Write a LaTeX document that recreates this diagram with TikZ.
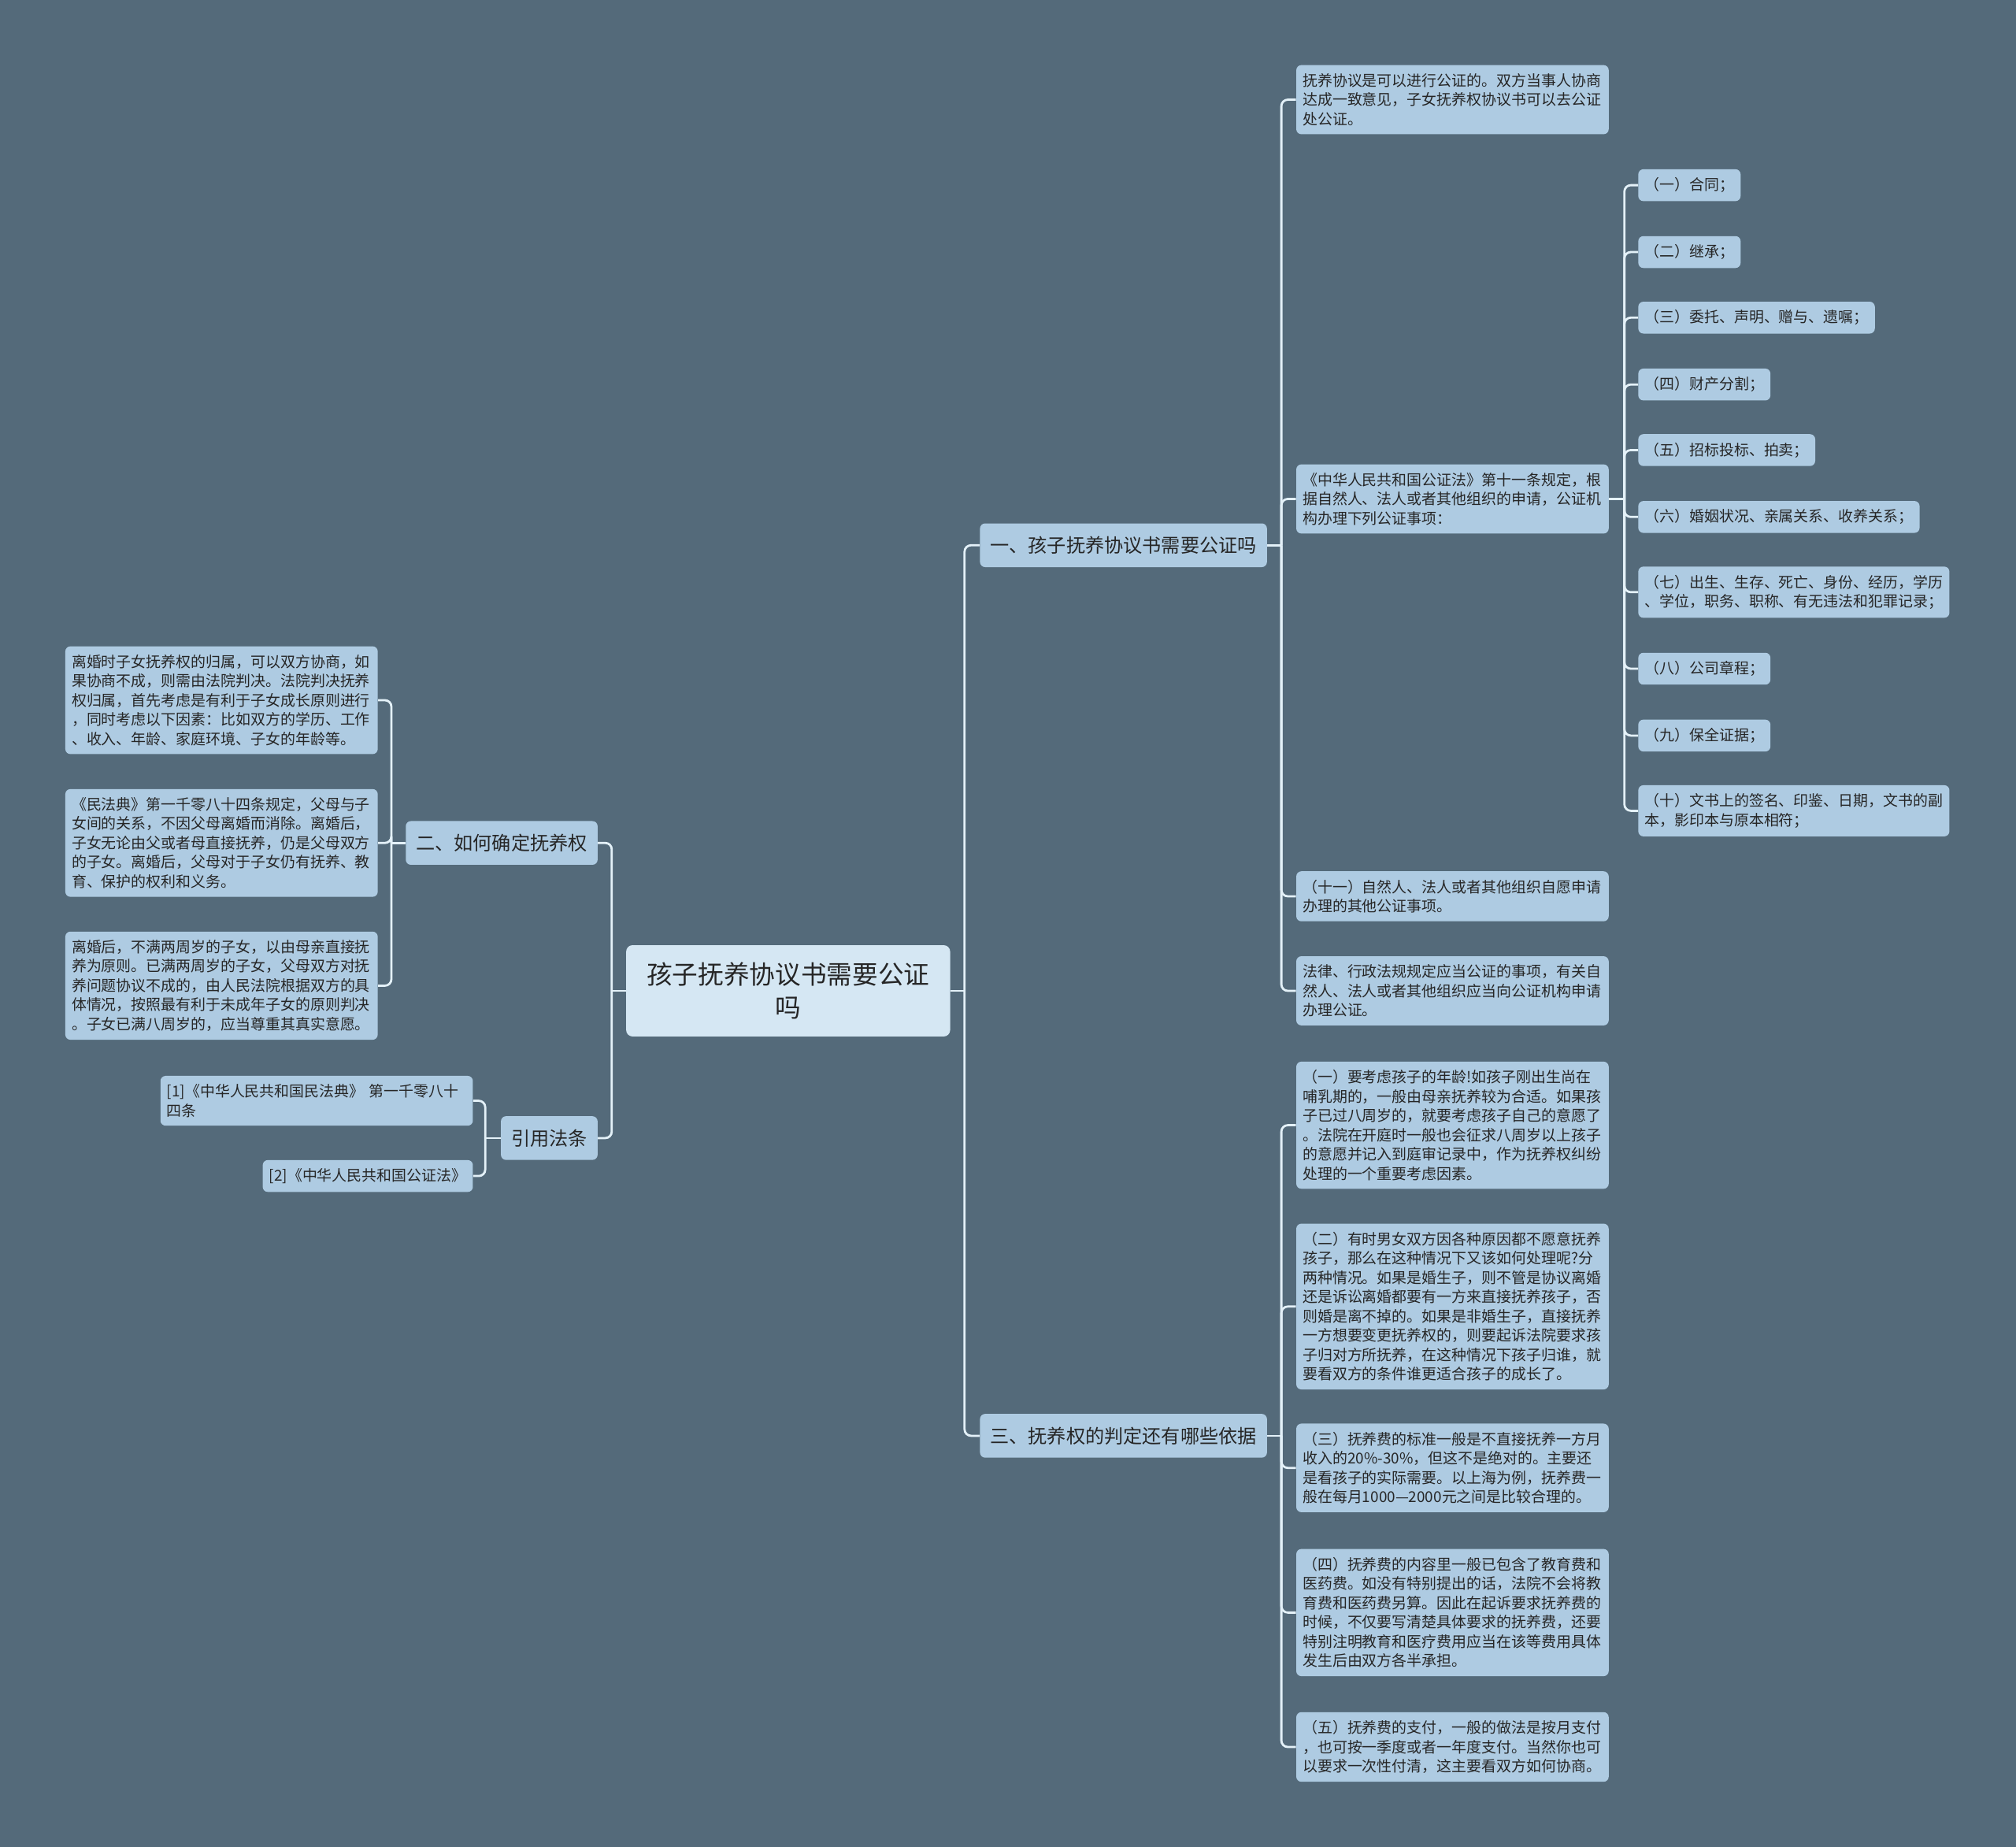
\documentclass[tikz,border=0pt]{standalone}
\usepackage{fontspec}
\setmainfont{Noto Sans CJK SC}
\usetikzlibrary{positioning,calc}

\definecolor{bg}{HTML}{546A7A}
\definecolor{leaffill}{HTML}{AECBE2}
\definecolor{rootfill}{HTML}{D5E7F3}
\definecolor{wire}{HTML}{E4F1F8}
\definecolor{ink}{HTML}{262626}

\begin{document}
\begin{tikzpicture}[
  x=1pt, y=-1pt,
  root/.style={rounded corners=5pt, fill=rootfill, text=ink, align=center,
               font=\fontsize{20}{26}\selectfont, minimum width=252pt, minimum height=71pt},
  topic/.style={rounded corners=4pt, fill=leaffill, text=ink, inner xsep=8pt,
               font=\fontsize{14.8}{18}\selectfont, minimum height=34pt},
  leaf/.style={rounded corners=4pt, fill=leaffill, text=ink, align=left, text width=\W pt,
               font=\fontsize{11.6}{15}\selectfont, inner xsep=5pt, inner ysep=6.5pt},
  item/.style={rounded corners=4pt, fill=leaffill, text=ink, align=left,
               font=\fontsize{11.6}{15}\selectfont, inner xsep=5pt, inner ysep=6.5pt},
  link/.style={draw=wire, line width=1.7pt},
  elbow/.style={link, rounded corners=5pt},
]
\def\W{233}   % leaf text width

% ---- canvas ----
\useasboundingbox (0,0) rectangle (1568,1436);
\fill[bg] (0,0) rectangle (1568,1436);

% ---- centre and main topics ----
\node[root] (root) at (613,770.5) {孩子抚养协议书需要公证\\吗};
\node[topic, anchor=west] (need)  at (762,424)    {一、孩子抚养协议书需要公证吗};
\node[topic, anchor=east] (how)   at (465,655.5)  {二、如何确定抚养权};
\node[topic, anchor=east] (cite)  at (465,885)    {引用法条};
\node[topic, anchor=west] (basis) at (762,1116.5) {三、抚养权的判定还有哪些依据};

% ---- 一、 ----
\node[leaf, anchor=west] (need1) at (1008,77.5) {抚养协议是可以进行公证的。双方当事人协商\\达成一致意见，子女抚养权协议书可以去公证\\处公证。};
\node[leaf, anchor=west] (need2) at (1008,388) {《中华人民共和国公证法》第十一条规定，根\\据自然人、法人或者其他组织的申请，公证机\\构办理下列公证事项：};
\node[leaf, anchor=west] (need3) at (1008,697) {（十一）自然人、法人或者其他组织自愿申请\\办理的其他公证事项。};
\node[leaf, anchor=west] (need4) at (1008,770.5) {法律、行政法规规定应当公证的事项，有关自\\然人、法人或者其他组织应当向公证机构申请\\办理公证。};

% items of the notary law
\foreach \n/\y/\txt in {%
  1/144/{（一）合同；},
  2/196/{（二）继承；},
  3/247/{（三）委托、声明、赠与、遗嘱；},
  4/299/{（四）财产分割；},
  5/350/{（五）招标投标、拍卖；},
  6/402/{（六）婚姻状况、亲属关系、收养关系；},
  7/460.5/{（七）出生、生存、死亡、身份、经历，学历\\、学位，职务、职称、有无违法和犯罪记录；},
  8/520/{（八）公司章程；},
  9/572/{（九）保全证据；},
  10/630.5/{（十）文书上的签名、印鉴、日期，文书的副\\本，影印本与原本相符；}}{
    \node[item, anchor=west] (law\n) at (1274,\y) {\txt};
}

% ---- 二、 ----
\node[leaf, anchor=east] (how1) at (294,544.5) {离婚时子女抚养权的归属，可以双方协商，如\\果协商不成，则需由法院判决。法院判决抚养\\权归属，首先考虑是有利于子女成长原则进行\\，同时考虑以下因素：比如双方的学历、工作\\、收入、年龄、家庭环境、子女的年龄等。};
\node[leaf, anchor=east] (how2) at (294,655.5) {《民法典》第一千零八十四条规定，父母与子\\女间的关系，不因父母离婚而消除。离婚后，\\子女无论由父或者母直接抚养，仍是父母双方\\的子女。离婚后，父母对于子女仍有抚养、教\\育、保护的权利和义务。};
\node[leaf, anchor=east] (how3) at (294,766.5) {离婚后，不满两周岁的子女，以由母亲直接抚\\养为原则。已满两周岁的子女，父母双方对抚\\养问题协议不成的，由人民法院根据双方的具\\体情况，按照最有利于未成年子女的原则判决\\。子女已满八周岁的，应当尊重其真实意愿。};

% ---- 引用法条 ----
\node[leaf, anchor=east] (cite1) at (368,856) {[1]《中华人民共和国民法典》 第一千零八十\\四条};
\node[item, anchor=east] (cite2) at (368,914.5) {[2]《中华人民共和国公证法》};

% ---- 三、 ----
\node[leaf, anchor=west] (basis1) at (1008,875) {（一）要考虑孩子的年龄!如孩子刚出生尚在\\哺乳期的，一般由母亲抚养较为合适。如果孩\\子已过八周岁的，就要考虑孩子自己的意愿了\\。法院在开庭时一般也会征求八周岁以上孩子\\的意愿并记入到庭审记录中，作为抚养权纠纷\\处理的一个重要考虑因素。};
\node[leaf, anchor=west] (basis2) at (1008,1016) {（二）有时男女双方因各种原因都不愿意抚养\\孩子，那么在这种情况下又该如何处理呢?分\\两种情况。如果是婚生子，则不管是协议离婚\\还是诉讼离婚都要有一方来直接抚养孩子，否\\则婚是离不掉的。如果是非婚生子，直接抚养\\一方想要变更抚养权的，则要起诉法院要求孩\\子归对方所抚养，在这种情况下孩子归谁，就\\要看双方的条件谁更适合孩子的成长了。};
\node[leaf, anchor=west] (basis3) at (1008,1141.5) {（三）抚养费的标准一般是不直接抚养一方月\\收入的20\%-30\%，但这不是绝对的。主要还\\是看孩子的实际需要。以上海为例，抚养费一\\般在每月1000—2000元之间是比较合理的。};
\node[leaf, anchor=west] (basis4) at (1008,1254) {（四）抚养费的内容里一般已包含了教育费和\\医药费。如没有特别提出的话，法院不会将教\\育费和医药费另算。因此在起诉要求抚养费的\\时候，不仅要写清楚具体要求的抚养费，还要\\特别注明教育和医疗费用应当在该等费用具体\\发生后由双方各半承担。};
\node[leaf, anchor=west] (basis5) at (1008,1358.5) {（五）抚养费的支付，一般的做法是按月支付\\，也可按一季度或者一年度支付。当然你也可\\以要求一次性付清，这主要看双方如何协商。};

% ---- connectors ----
\draw[link] (root.east) -- ++(11,0) coordinate (rootR);
\draw[link] (root.west) -- ++(-11,0) coordinate (rootL);
\foreach \c in {need,basis} \draw[elbow] (rootR) |- (\c.west);
\foreach \c in {how,cite} \draw[elbow] (rootL) |- (\c.east);

\draw[link] (need.east) -- ++(11,0) coordinate (needJ);
\foreach \c in {need1,need2,need3,need4} \draw[elbow] (needJ) |- (\c.west);

\draw[link] (need2.east) -- ++(12,0) coordinate (lawJ);
\foreach \n in {1,...,10} \draw[elbow] (lawJ) |- (law\n.west);

\draw[link] (basis.east) -- ++(11,0) coordinate (basisJ);
\foreach \c in {basis1,basis2,basis3,basis4,basis5} \draw[elbow] (basisJ) |- (\c.west);

\draw[link] (how.west) -- ++(-11,0) coordinate (howJ);
\foreach \c in {how1,how2,how3} \draw[elbow] (howJ) |- (\c.east);

\draw[link] (cite.west) -- ++(-12,0) coordinate (citeJ);
\foreach \c in {cite1,cite2} \draw[elbow] (citeJ) |- (\c.east);
\end{tikzpicture}
\end{document}
